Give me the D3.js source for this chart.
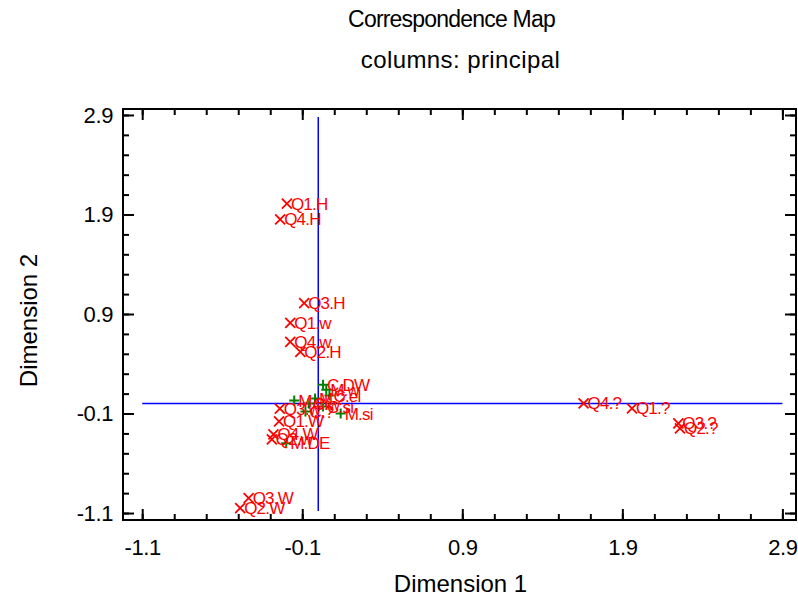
<!DOCTYPE html>
<html><head><meta charset="utf-8">
<script src="https://cdn.jsdelivr.net/npm/d3@7"></script>
<style>body{margin:0;background:#fff} svg text{font-family:"Liberation Sans",Arial,sans-serif}</style>
</head><body><svg id="c" width="798" height="598"></svg>
<script>
// ---- data ----
const rowLabels = ["Q1.H","Q4.H","Q3.H","Q1.w","Q4.w","Q2.H","Q3.w","Q1.W","Q4.W","Q2.w","Q3.W","Q2.W","Q4.?","Q1.?","Q3.?","Q2.?"];
const rowDim1   = [-0.196,-0.238,-0.088,-0.175,-0.175,-0.112,-0.24,-0.245,-0.28,-0.29,-0.435,-0.488,1.658,1.96,2.25,2.26];
const rowDim2   = [2.01,1.85,1.01,0.81,0.62,0.52,-0.05,-0.18,-0.31,-0.36,-0.95,-1.05,0.002,-0.048,-0.20,-0.25];
const colLabels = ["C.DW","M.w","C.el","M.?","M.el","C.w","C.?","C.si","M.si","M.DE"];
const colDim1   = [0.03,0.05,0.07,-0.02,-0.15,-0.06,-0.08,0.03,0.14,-0.20];
const colDim2   = [0.19,0.14,0.08,0.05,0.03,0.0,-0.08,-0.03,-0.10,-0.40];
const xTickLabels = ["-1.1","-0.1","0.9","1.9","2.9"];
const yTickLabels = ["-1.1","-0.1","0.9","1.9","2.9"];
const title = "Correspondence Map", subtitle = "columns: principal";
const xTitle = "Dimension 1", yTitle = "Dimension 2";

// ---- layout ----
const svg = d3.select("#c");
const x = d3.scaleLinear().domain([-1.22, 2.985]).range([123, 796]);
const y = d3.scaleLinear().domain([-1.17, 2.96]).range([520, 109]);
const xMaj = xTickLabels.map(Number), yMaj = yTickLabels.map(Number);
const xMin = d3.range(0, 21).map(i => -1.1 + i * 0.2);
const yMin = d3.range(0, 21).map(i => -1.1 + i * 0.2);
const [x0, x1] = x.range(), [y0, y1] = y.range();
const fnt = '"Liberation Sans",Arial,sans-serif';

function styleAxis(g, fs) {
  g.select(".domain").remove();
  g.selectAll("line").attr("stroke", "#000").attr("stroke-width", 2);
  g.selectAll("text").attr("font-family", fnt).attr("font-size", fs).attr("fill", "#000").attr("letter-spacing", -0.4);
}
// minor ticks
svg.append("g").attr("transform", `translate(0,${y0})`).call(d3.axisBottom(x).tickValues(xMin).tickSize(-6).tickFormat("")).call(g => styleAxis(g, 0));
svg.append("g").attr("transform", `translate(0,${y1})`).call(d3.axisTop(x).tickValues(xMin).tickSize(-6).tickFormat("")).call(g => styleAxis(g, 0));
svg.append("g").attr("transform", `translate(${x0},0)`).call(d3.axisLeft(y).tickValues(yMin).tickSize(-6).tickFormat("")).call(g => styleAxis(g, 0));
svg.append("g").attr("transform", `translate(${x1},0)`).call(d3.axisRight(y).tickValues(yMin).tickSize(-6).tickFormat("")).call(g => styleAxis(g, 0));
// major ticks
svg.append("g").attr("transform", `translate(0,${y0})`).call(d3.axisBottom(x).tickValues(xMaj).tickSize(-11).tickPadding(19).tickFormat((d,i) => xTickLabels[i])).call(g => styleAxis(g, 22));
svg.append("g").attr("transform", `translate(0,${y1})`).call(d3.axisTop(x).tickValues(xMaj).tickSize(-11).tickFormat("")).call(g => styleAxis(g, 0));
svg.append("g").attr("transform", `translate(${x0},0)`).call(d3.axisLeft(y).tickValues(yMaj).tickSize(-11).tickPadding(10).tickFormat((d,i) => yTickLabels[i])).call(g => styleAxis(g, 22));
svg.append("g").attr("transform", `translate(${x1},0)`).call(d3.axisRight(y).tickValues(yMaj).tickSize(-11).tickFormat("")).call(g => styleAxis(g, 0));

// frame
svg.append("rect").attr("x", x0).attr("y", y1).attr("width", x1 - x0).attr("height", y0 - y1)
  .attr("fill", "none").attr("stroke", "#000").attr("stroke-width", 2);

// reference lines
svg.append("line").attr("x1", x(0)).attr("x2", x(0)).attr("y1", y(-1.08)).attr("y2", y(2.88)).attr("stroke", "#0000ff").attr("stroke-width", 1.5);
svg.append("line").attr("x1", x(-1.1)).attr("x2", x(2.9)).attr("y1", y(0)).attr("y2", y(0)).attr("stroke", "#0000ff").attr("stroke-width", 1.5);

// column points (green +)
const cols = colLabels.map((l, i) => ({l, a: colDim1[i], b: colDim2[i]}));
const rows = rowLabels.map((l, i) => ({l, a: rowDim1[i], b: rowDim2[i]}));
const s = 5;
svg.append("g").selectAll("path").data(cols).join("path")
  .attr("d", d => `M${x(d.a)-s},${y(d.b)}H${x(d.a)+s}M${x(d.a)},${y(d.b)-s}V${y(d.b)+s}`)
  .attr("stroke", "#008000").attr("stroke-width", 2).attr("fill", "none");
svg.append("g").selectAll("path").data(rows).join("path")
  .attr("d", d => `M${x(d.a)-s},${y(d.b)-s}L${x(d.a)+s},${y(d.b)+s}M${x(d.a)-s},${y(d.b)+s}L${x(d.a)+s},${y(d.b)-s}`)
  .attr("stroke", "#ff0000").attr("stroke-width", 1.8).attr("fill", "none");
// labels
svg.append("g").selectAll("text").data(cols.concat(rows)).join("text")
  .attr("x", d => x(d.a) + 4).attr("y", d => y(d.b) + 6)
  .attr("font-size", 17).attr("fill", "#ff0000").attr("letter-spacing", -0.8)
  .text(d => d.l);

// titles
const cx = (x0 + x1) / 2;
svg.append("text").attr("x", cx - 8).attr("y", 27).attr("text-anchor", "middle").attr("font-size", 23).attr("letter-spacing", -0.8).text(title);
svg.append("text").attr("x", cx + 1).attr("y", 68).attr("text-anchor", "middle").attr("font-size", 24).attr("letter-spacing", 0.4).text(subtitle);
svg.append("text").attr("x", cx + 1).attr("y", 592).attr("text-anchor", "middle").attr("font-size", 24).attr("letter-spacing", 0).text(xTitle);
svg.append("text").attr("transform", `translate(37,${(y0 + y1) / 2 + 6}) rotate(-90)`).attr("text-anchor", "middle").attr("font-size", 24).attr("letter-spacing", 0).text(yTitle);
</script></body></html>
